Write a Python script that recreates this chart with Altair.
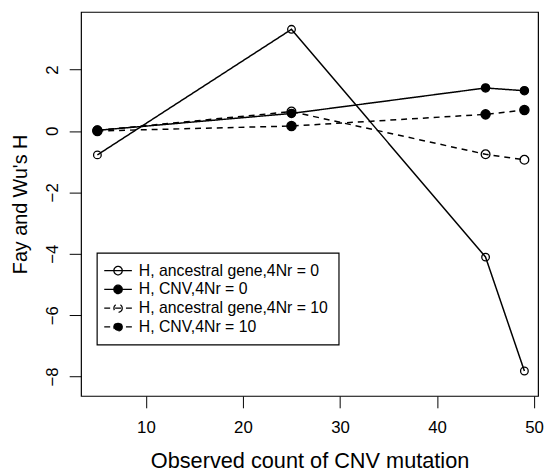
import altair as alt
import pandas as pd

x_vals = [5, 25, 45, 49]
h_anc_0 = [-0.78, 3.31, -4.11, -7.82]
h_cnv_0 = [0.02, 0.57, 1.40, 1.31]
h_anc_10 = [0.02, 0.63, -0.76, -0.94]
h_cnv_10 = [0.00, 0.16, 0.54, 0.68]
series_names = [
    "H, ancestral gene,4Nr = 0",
    "H, CNV,4Nr = 0",
    "H, ancestral gene,4Nr = 10",
    "H, CNV,4Nr = 10",
]
x_ticks = [10, 20, 30, 40, 50]
y_ticks = [-8, -6, -4, -2, 0, 2]

rows = []
for name, vals in zip(series_names, [h_anc_0, h_cnv_0, h_anc_10, h_cnv_10]):
    for xv, yv in zip(x_vals, vals):
        rows.append({"series": name, "x": xv, "y": yv})
df = pd.DataFrame(rows)

FONT = "Liberation Sans"
LEG_PATH = "M-2.8,0L2.8,0M0.85,0A0.85,0.85,0,1,1,-0.85,0A0.85,0.85,0,1,1,0.85,0Z"

fill_range = ["transparent", "black", "transparent", "black"]
dash_range = [[1, 0], [1, 0], [6, 5], [6, 5]]

xenc = alt.X(
    "x:Q",
    scale=alt.Scale(domain=[3.316, 50.41], nice=False, zero=False),
    axis=alt.Axis(values=x_ticks, title="Observed count of CNV mutation"),
)
yenc = alt.Y(
    "y:Q",
    scale=alt.Scale(domain=[-8.633, 3.875], nice=False, zero=False),
    axis=alt.Axis(values=y_ticks, title="Fay and Wu's H"),
)

leg = alt.Legend(
    orient="none",
    legendX=16,
    legendY=244,
    direction="vertical",
    title=None,
    symbolType=LEG_PATH,
    symbolSize=100,
    symbolStrokeColor="black",
    symbolStrokeWidth=1.3,
    labelLimit=400,
)

base = alt.Chart(df)

lines = base.mark_line(color="black", strokeWidth=1.5).encode(
    x=xenc,
    y=yenc,
    strokeDash=alt.StrokeDash(
        "series:N", scale=alt.Scale(domain=series_names, range=dash_range), legend=None
    ),
)

points = base.mark_point(stroke="black", strokeWidth=1.3, opacity=1, shape="circle").encode(
    x=xenc,
    y=yenc,
    fill=alt.Fill("series:N", scale=alt.Scale(domain=series_names, range=fill_range), legend=None),
    size=alt.Size("series:N", scale=alt.Scale(domain=series_names, range=[60, 88, 60, 88]), legend=None),
)

ghost = base.mark_point(stroke="black", strokeWidth=1.3, opacity=1, shape=LEG_PATH).encode(
    x=xenc,
    y=yenc,
    fill=alt.Fill("series:N", scale=alt.Scale(domain=series_names, range=fill_range), legend=leg),
    strokeDash=alt.StrokeDash("series:N", scale=alt.Scale(domain=series_names, range=dash_range), legend=leg),
).transform_filter("false")

chart = (
    alt.layer(lines, points, ghost)
    .resolve_scale(fill="independent", strokeDash="independent", size="independent")
    .properties(
        width=463,
        height=389,
        padding={"left": 74, "top": 1, "right": 6, "bottom": 75},
        autosize=alt.AutoSizeParams(type="none"),
    )
    .configure_view(stroke="black", strokeWidth=1.2)
    .configure_axis(
        grid=False,
        domain=False,
        tickColor="black",
        tickWidth=1,
        tickSize=12,
        labelFont=FONT,
        titleFont=FONT,
        labelColor="black",
        titleColor="black",
        labelFontSize=17,
        titleFontSize=22,
        titleFontWeight="normal",
        labelFlush=False,
        labelOverlap=False,
    )
    .configure_axisX(
        labelPadding=25,
        labelBaseline="alphabetic",
        titleY=72,
        titleBaseline="alphabetic",
    )
    .configure_axisY(
        labelAngle=270,
        labelAlign="center",
        labelBaseline="alphabetic",
        labelPadding=11.5,
        titleAngle=270,
        titleX=-55,
        titleFontSize=20,
        titleBaseline="alphabetic",
        titleAlign="center",
    )
    .configure_legend(
        strokeColor="black",
        strokeWidth=1.2,
        fillColor="white",
        padding=10,
        labelFont=FONT,
        labelFontSize=16,
        labelColor="black",
        symbolSize=100,
        symbolStrokeColor="black",
        symbolStrokeWidth=1.3,
        symbolOffset=3.5,
        labelOffset=13,
        rowPadding=3,
        cornerRadius=0,
    )
)

chart.save("out.html", embed_options={"renderer": "svg", "actions": False})
